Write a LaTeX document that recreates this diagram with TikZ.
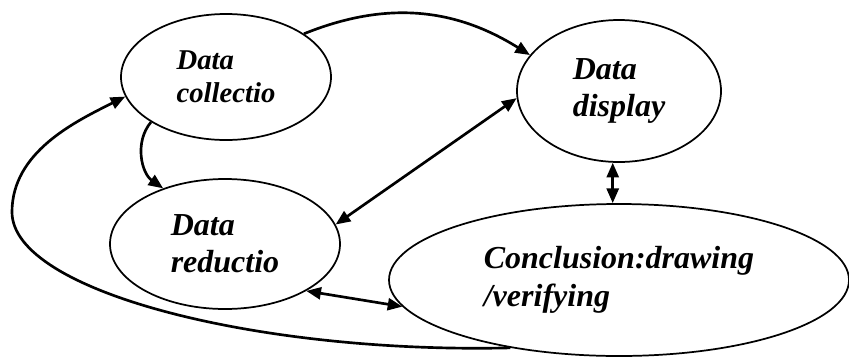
\documentclass[tikz,border=0pt]{standalone}
\usepackage{fontspec}
\setmainfont{Liberation Serif}
\usepackage{tikz}
\usetikzlibrary{shapes,arrows.meta,positioning,calc}

\tikzset{
  stage/.style={draw,ellipse,line width=1.3pt,inner sep=0pt,align=left,
    font=\bfseries\itshape\fontsize{24}{28}\selectfont},
  flow/.style={-{Triangle[length=11pt,width=9pt]},line width=2pt},
  both/.style={{Triangle[length=11pt,width=9pt]}-{Triangle[length=11pt,width=9pt]},line width=2pt}
}

\begin{document}
\begin{tikzpicture}[x=0.75pt,y=-0.75pt]
      \useasboundingbox (0,0) rectangle (849,358);

      \node[stage,minimum width=157.5pt,minimum height=94.5pt,
        font=\bfseries\itshape\fontsize{21.5}{25}\selectfont] (col) at (226,77) {Data\\collectio};
      \node[stage,minimum width=153pt,minimum height=106.5pt] (dsp) at (619,91) {Data\\display};
      \node[stage,minimum width=172.5pt,minimum height=97.5pt] (red) at (225,244) {Data\\reductio};
      \node[stage,minimum width=345pt,minimum height=114pt] (con) at (619,280) {Conclusion:drawing\\/verifying};

      \coordinate (lft) at (12,212);

      \draw[flow] (col.29) to[out=22,in=148] (dsp.158);
      \draw[flow] (col.211) to[out=230,in=145] (red.138);
      \draw[both] (dsp.184) -- (red.10);
      \draw[both] (dsp.265) -- (con.north -| dsp.265);
      \draw[both] (red.330) -- (con.187);
      % long way back to the start
      \draw[flow] (con.212) .. controls +(-250,6) and +(0,80) .. (lft)
        .. controls +(0,-60) and +(-50,25) .. (col.191);

    \end{tikzpicture}
\end{document}
